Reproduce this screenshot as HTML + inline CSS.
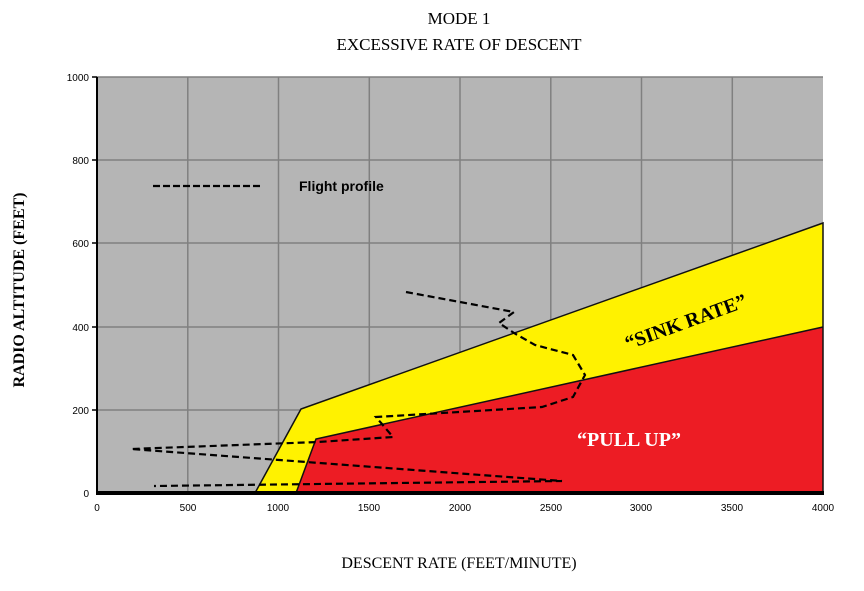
<!DOCTYPE html>
<html><head><style>body{margin:0;background:#fff}</style></head><body>
<svg width="864" height="586" xmlns="http://www.w3.org/2000/svg">
<text x="459" y="24" font-family="Liberation Serif" font-size="17" text-anchor="middle">MODE 1</text>
<text x="459" y="50" font-family="Liberation Serif" font-size="17" text-anchor="middle">EXCESSIVE RATE OF DESCENT</text>
<rect x="97" y="77" width="726" height="416" fill="#b5b5b5"/>
<g stroke="#808080" stroke-width="1.5">
<line x1="187.8" y1="77" x2="187.8" y2="493"/><line x1="278.5" y1="77" x2="278.5" y2="493"/>
<line x1="369.3" y1="77" x2="369.3" y2="493"/><line x1="460" y1="77" x2="460" y2="493"/>
<line x1="550.8" y1="77" x2="550.8" y2="493"/><line x1="641.5" y1="77" x2="641.5" y2="493"/>
<line x1="732.3" y1="77" x2="732.3" y2="493"/>
<line x1="97" y1="160" x2="823" y2="160"/><line x1="97" y1="243" x2="823" y2="243"/>
<line x1="97" y1="327" x2="823" y2="327"/><line x1="97" y1="410" x2="823" y2="410"/>
<line x1="97" y1="77" x2="823" y2="77"/>
</g>
<polygon points="255,493 301,409 823,223 823,327 316,439 296,493" fill="#fff200"/>
<polygon points="296,493 316,439 823,327 823,493" fill="#ed1c24"/>
<polyline points="255,493 301,409 823,223 823,493" fill="none" stroke="#111" stroke-width="1.5"/>
<polyline points="296,493 316,439 823,327" fill="none" stroke="#111" stroke-width="1.5"/>
<line x1="97" y1="77" x2="97" y2="494" stroke="#000" stroke-width="2"/>
<line x1="96" y1="493" x2="824" y2="493" stroke="#000" stroke-width="4"/>
<g stroke="#000" stroke-width="1.5">
<line x1="92" y1="77" x2="97" y2="77"/><line x1="92" y1="160" x2="97" y2="160"/><line x1="92" y1="243" x2="97" y2="243"/><line x1="92" y1="327" x2="97" y2="327"/><line x1="92" y1="410" x2="97" y2="410"/>
</g>
<g font-family="Liberation Sans" font-size="10" text-anchor="end">
<text x="89" y="81">1000</text><text x="89" y="164">800</text><text x="89" y="247">600</text><text x="89" y="331">400</text><text x="89" y="414">200</text><text x="89" y="497">0</text>
</g>
<g font-family="Liberation Sans" font-size="10" text-anchor="middle">
<text x="97" y="511">0</text><text x="188" y="511">500</text><text x="278" y="511">1000</text><text x="369" y="511">1500</text><text x="460" y="511">2000</text><text x="551" y="511">2500</text><text x="641" y="511">3000</text><text x="732" y="511">3500</text><text x="823" y="511">4000</text>
</g>
<polyline points="406,292 514,312 499,323 514,333 535,345 573,355 585,375 573,397 542,407 376,417 393,437 318,442 131,449 562,481 154,486" fill="none" stroke="#000" stroke-width="2.2" stroke-dasharray="7,4"/>
<line x1="153" y1="186" x2="260" y2="186" stroke="#000" stroke-width="2.2" stroke-dasharray="7,3"/>
<text x="299" y="191" font-family="Liberation Sans" font-size="14" font-weight="bold">Flight profile</text>
<text x="688" y="328" font-family="Liberation Serif" font-size="20" font-weight="bold" fill="#000" transform="rotate(-20 688 328)" text-anchor="middle">“SINK RATE”</text>
<text x="629" y="446" font-family="Liberation Serif" font-size="20" font-weight="bold" fill="#fff" text-anchor="middle">“PULL UP”</text>
<text x="459" y="568" font-family="Liberation Serif" font-size="16" text-anchor="middle">DESCENT RATE (FEET/MINUTE)</text>
<text x="24" y="290" font-family="Liberation Serif" font-size="16" font-weight="bold" text-anchor="middle" transform="rotate(-90 24 290)">RADIO ALTITUDE (FEET)</text>
</svg>
</body></html>
